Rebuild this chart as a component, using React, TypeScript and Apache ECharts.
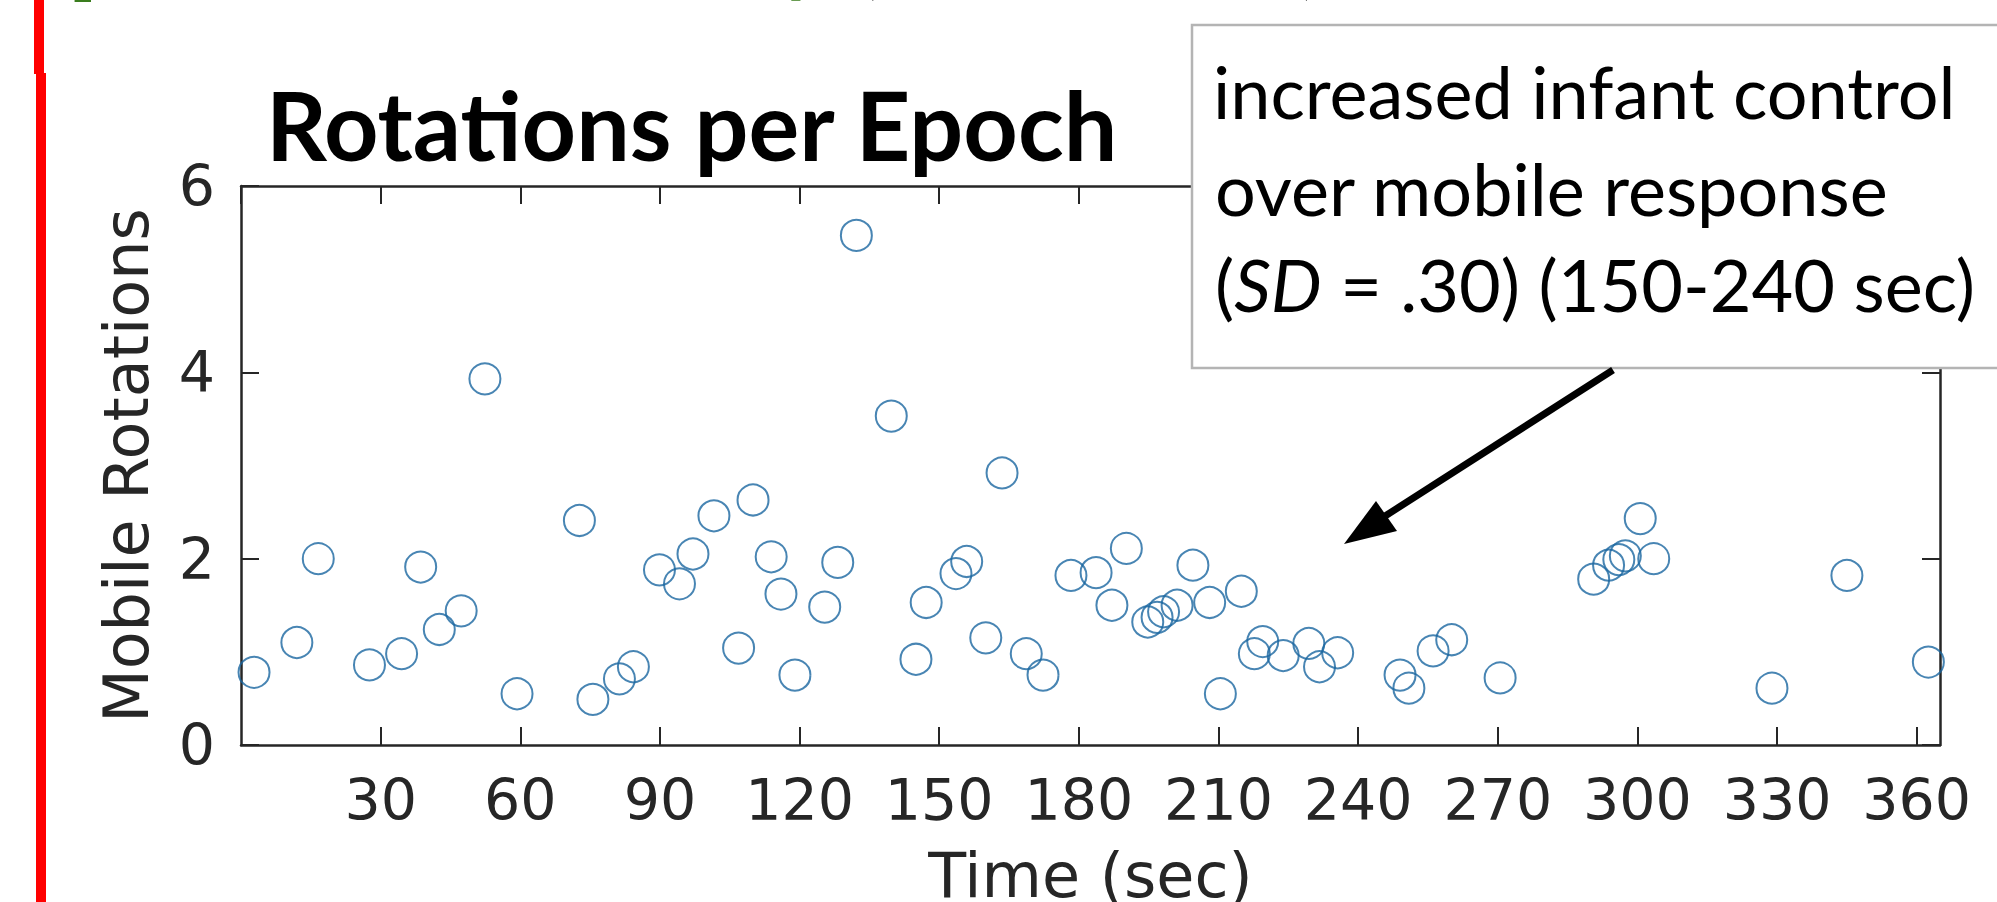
import React, { useEffect, useRef } from "react";
import * as echarts from "echarts";

const timeSec = [
  2.8, 12.0, 16.6, 27.6, 34.5, 38.6, 42.6, 47.3, 52.4, 59.3,
  72.7, 75.6, 81.3, 84.3, 89.9, 94.2, 97.1, 101.6, 106.9, 110.0,
  113.9, 116.0, 119.0, 125.4, 128.2, 132.2, 139.7, 145.0, 147.2, 153.6,
  155.9, 160.0, 163.5, 168.7, 172.3, 178.3, 183.7, 187.1, 190.2, 194.8,
  196.8, 198.2, 201.1, 204.5, 208.1, 210.4, 214.9, 217.7, 219.5, 223.9,
  229.4, 231.7, 235.6, 249.0, 250.9, 256.1, 260.1, 270.5, 290.6, 293.8,
  296.0, 297.4, 300.6, 303.5, 328.9, 345.0, 362.5,
];
const rotations = [
  0.78, 1.10, 2.00, 0.86, 0.98, 1.91, 1.24, 1.44, 3.93, 0.55,
  2.41, 0.49, 0.71, 0.84, 1.88, 1.73, 2.05, 2.46, 1.04, 2.63,
  2.02, 1.62, 0.75, 1.48, 1.96, 5.47, 3.53, 0.92, 1.53, 1.84,
  1.97, 1.15, 2.92, 0.98, 0.75, 1.82, 1.85, 1.50, 2.11, 1.32,
  1.37, 1.43, 1.50, 1.93, 1.53, 0.55, 1.65, 0.98, 1.11, 0.96,
  1.09, 0.84, 0.99, 0.75, 0.61, 1.01, 1.13, 0.72, 1.78, 1.93,
  1.99, 2.03, 2.43, 2.00, 0.61, 1.82, 0.89,
];

const titleText = "Rotations per Epoch";
const xName = "Time (sec)";
const yName = "Mobile Rotations";
const noteLine1 = "increased infant control";
const noteLine2 = "over mobile response";
const noteLine3 = "{n|(}{i|SD}{n| = .30) (150-240 sec)}";

const AXIS = "#262626";
const MARK = "#1a66a0";
const TICK_FONT = "DejaVu Sans";

export default function App() {
  const ref = useRef<HTMLDivElement>(null);
  useEffect(() => {
    if (!ref.current) return;
    const chart = echarts.init(ref.current, null, { renderer: "svg" });
    const axisLine = { show: true, onZero: false, lineStyle: { color: AXIS, width: 2.5 } };
    const axisTick = { show: true, inside: true, length: 18, lineStyle: { color: AXIS, width: 2 } };
    const noteFont = { fontFamily: "Lato", fontSize: 72, fill: "#000" };
    chart.setOption({
      animation: false,
      backgroundColor: "#ffffff",
      grid: {
        left: 241, right: 57, top: 186, bottom: 157,
        containLabel: false, outerBoundsMode: "none",
      },
      xAxis: [
        {
          type: "value", min: 0, max: 365, interval: 30, position: "bottom",
          axisLine, axisTick, splitLine: { show: false },
          axisLabel: {
            show: true, showMinLabel: false, showMaxLabel: false, margin: 26,
            color: AXIS, fontFamily: TICK_FONT, fontSize: 57,
          },
          name: xName, nameLocation: "middle", nameGap: 99,
          nameTextStyle: { color: AXIS, fontFamily: TICK_FONT, fontSize: 62 },
        },
        {
          type: "value", min: 0, max: 365, interval: 30, position: "top",
          axisLine, axisTick, splitLine: { show: false }, axisLabel: { show: false },
        },
      ],
      yAxis: [
        {
          type: "value", min: 0, max: 6, interval: 2, position: "left",
          axisLine, axisTick, splitLine: { show: false },
          axisLabel: { show: true, margin: 26, color: AXIS, fontFamily: TICK_FONT, fontSize: 57 },
          name: yName, nameLocation: "middle", nameGap: 84, nameRotate: 90,
          nameTextStyle: { color: AXIS, fontFamily: TICK_FONT, fontSize: 62 },
        },
        {
          type: "value", min: 0, max: 6, interval: 2, position: "right",
          axisLine, axisTick, splitLine: { show: false }, axisLabel: { show: false },
        },
      ],
      series: [
        {
          type: "scatter",
          xAxisIndex: 0,
          yAxisIndex: 0,
          clip: false,
          symbol: "circle",
          symbolSize: 31,
          itemStyle: { color: "rgba(0,0,0,0)", borderColor: MARK, borderWidth: 2 },
          data: timeSec.map((t, i) => [t, rotations[i]]),
        },
      ],
      graphic: [
        { type: "rect", shape: { x: 34, y: 0, width: 10, height: 74 }, style: { fill: "#ff0000" }, z: 50 },
        { type: "rect", shape: { x: 36, y: 73, width: 10, height: 829 }, style: { fill: "#ff0000" }, z: 50 },
        { type: "text", x: 68, y: -41, style: { text: "[", fontFamily: "Lato", fontWeight: "bold", fontSize: 80, fill: "#3a7d1e", verticalAlign: "middle" }, z: 50 },
        { type: "text", x: 782, y: -44, style: { text: "y", fontFamily: "Lato", fontWeight: "bold", fontSize: 80, fill: "#3a7d1e", verticalAlign: "middle" }, z: 50 },
        { type: "text", x: 858, y: -42, style: { text: "(", fontFamily: "Lato", fontSize: 80, fill: "#000", verticalAlign: "middle" }, z: 50 },
        { type: "text", x: 1300, y: -42, style: { text: ")", fontFamily: "Lato", fontSize: 80, fill: "#000", verticalAlign: "middle" }, z: 50 },
        {
          type: "text", x: 266, y: 124,
          style: { text: titleText, fontFamily: "Lato", fontWeight: "bold", fontSize: 95, fill: "#000", verticalAlign: "middle" },
          z: 50,
        },
        {
          type: "rect", shape: { x: 1192, y: 25, width: 840, height: 343 },
          style: { fill: "#ffffff", stroke: "#b4b4b4", lineWidth: 2.5 }, z: 100,
        },
        { type: "text", x: 1213, y: 91, style: { text: noteLine1, ...noteFont, verticalAlign: "middle" }, z: 101 },
        { type: "text", x: 1215, y: 188, style: { text: noteLine2, ...noteFont, verticalAlign: "middle" }, z: 101 },
        {
          type: "text", x: 1215, y: 284,
          style: {
            text: noteLine3, ...noteFont, verticalAlign: "middle",
            rich: {
              n: { fontFamily: "Lato", fontSize: 72, fill: "#000" },
              i: { fontFamily: "Lato", fontSize: 72, fontStyle: "italic", fill: "#000" },
            },
          },
          z: 101,
        },
        {
          type: "line", shape: { x1: 1613, y1: 370, x2: 1382, y2: 518 },
          style: { stroke: "#000", lineWidth: 7 }, z: 102,
        },
        {
          type: "polygon", shape: { points: [[1344, 544], [1376, 501], [1397, 531]] },
          style: { fill: "#000" }, z: 102,
        },
      ],
    });
    return () => chart.dispose();
  }, []);
  return (
    <div
      ref={ref}
      style={{ position: "fixed", left: 0, top: 0, width: 1997, height: 902, background: "#fff" }}
    />
  );
}
